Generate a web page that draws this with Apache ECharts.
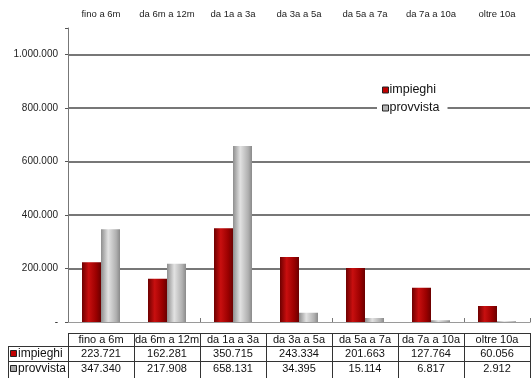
<!DOCTYPE html>
<html>
<head>
<meta charset="utf-8">
<style>
  html, body { margin: 0; padding: 0; background: #fff; }
  #chart { width: 532px; height: 378px; }
</style>
<script src="https://cdn.jsdelivr.net/npm/echarts@6/dist/echarts.min.js"></script>
</head>
<body>
<div id="chart"></div>
<script>
// Maturity buckets and amounts per bucket
const categories = ['fino a 6m', 'da 6m a 12m', 'da 1a a 3a', 'da 3a a 5a', 'da 5a a 7a', 'da 7a a 10a', 'oltre 10a'];
const impieghi  = [223721, 162281, 350715, 243334, 201663, 127764, 60056];
const provvista = [347340, 217908, 658131, 34395, 15114, 6817, 2912];
const seriesNames = ['impieghi', 'provvista'];
const yTicks = [0, 200000, 400000, 600000, 800000, 1000000];

const FONT = '"Liberation Sans", Arial, sans-serif';

function fmt(v) {
  if (v === 0) return '-';
  return String(v).replace(/\B(?=(\d{3})+(?!\d))/g, '.');
}

const redFill = new echarts.graphic.LinearGradient(0, 0, 1, 0, [
  { offset: 0, color: '#6e0000' },
  { offset: 0.35, color: '#c80f0f' },
  { offset: 0.75, color: '#9a0000' },
  { offset: 1, color: '#6a0000' }
]);
const greyFill = new echarts.graphic.LinearGradient(0, 0, 1, 0, [
  { offset: 0, color: '#8e8e8e' },
  { offset: 0.38, color: '#e2e2e2' },
  { offset: 0.8, color: '#b0b0b0' },
  { offset: 1, color: '#8a8a8a' }
]);

const chart = echarts.init(document.getElementById('chart'), null, { renderer: 'canvas' });

const option = {
  animation: false,
  backgroundColor: '#fff',
  grid: { left: 68, right: 2, top: 28, bottom: 56, containLabel: false },
  legend: {
    orient: 'vertical',
    left: 377,
    top: 81.5,
    padding: [2, 8, 2, 5],
    itemGap: 5,
    itemWidth: 6,
    itemHeight: 6,
    backgroundColor: '#fff',
    textStyle: { fontFamily: FONT, fontSize: 12.5, color: '#111', lineHeight: 13, padding: [0, 0, 0, -4] },
    data: [
      { name: seriesNames[0], icon: 'rect', itemStyle: { color: '#c00000', borderColor: '#222', borderWidth: 1 } },
      { name: seriesNames[1], icon: 'rect', itemStyle: { color: '#b4b4b4', borderColor: '#222', borderWidth: 1 } }
    ]
  },
  xAxis: [
    {
      type: 'category',
      position: 'top',
      data: categories,
      axisLine: { show: true, lineStyle: { color: '#a8a8a8', width: 1 } },
      axisTick: { show: false },
      axisLabel: { fontFamily: FONT, fontSize: 9.5, color: '#222', margin: 9, interval: 0 },
      splitLine: { show: false }
    },
    {
      type: 'category',
      position: 'bottom',
      data: categories,
      axisLine: { show: true, lineStyle: { color: '#9a9a9a', width: 1 } },
      axisTick: { show: true, inside: true, length: 4, lineStyle: { color: '#777' } },
      axisLabel: { show: false },
      splitLine: { show: false }
    }
  ],
  yAxis: {
    type: 'value',
    min: 0,
    max: 1100000,
    interval: 200000,
    axisLine: { show: true, lineStyle: { color: '#777', width: 1 } },
    axisTick: { show: true, length: 3, lineStyle: { color: '#555' } },
    axisLabel: {
      fontFamily: FONT, fontSize: 10, color: '#222', margin: 10,
      formatter: v => (yTicks.indexOf(v) >= 0 ? fmt(v) : '')
    },
    splitLine: {
      show: true,
      showMinLine: false,
      showMaxLine: false,
      lineStyle: { color: '#4a4a4a', width: 1.5 }
    }
  },
  series: [
    {
      name: seriesNames[0],
      type: 'bar',
      data: impieghi,
      barWidth: 19,
      barGap: '0%',
      itemStyle: { color: redFill }
    },
    {
      name: seriesNames[1],
      type: 'bar',
      data: provvista,
      barWidth: 19,
      barGap: '0%',
      itemStyle: { color: greyFill }
    }
  ]
};

chart.setOption(option);

// Data table underneath the plot, laid out on the category axis columns
function buildTable() {
  const centers = categories.map(c => chart.convertToPixel({ xAxisIndex: 0 }, c));
  const colW = centers.length > 1 ? centers[1] - centers[0] : 66;
  const x0 = centers[0] - colW / 2;
  const x1 = centers[centers.length - 1] + colW / 2;
  const keyLeft = 8;
  const rowTop = [333, 346, 361];
  const rowH = [13, 15, 15];
  const tableBottom = 380;
  const lineStyle = { stroke: '#333', lineWidth: 1 };
  const els = [];

  // horizontal rules
  els.push({ type: 'line', shape: { x1: x0, y1: rowTop[0] + 0.5, x2: x1, y2: rowTop[0] + 0.5 }, style: lineStyle, silent: true });
  els.push({ type: 'line', shape: { x1: keyLeft, y1: rowTop[1] + 0.5, x2: x1, y2: rowTop[1] + 0.5 }, style: lineStyle, silent: true });
  els.push({ type: 'line', shape: { x1: keyLeft, y1: rowTop[2] + 0.5, x2: x1, y2: rowTop[2] + 0.5 }, style: lineStyle, silent: true });

  // vertical rules
  els.push({ type: 'line', shape: { x1: keyLeft + 0.5, y1: rowTop[1], x2: keyLeft + 0.5, y2: tableBottom }, style: lineStyle, silent: true });
  for (let k = 0; k <= categories.length; k++) {
    const x = Math.round(x0 + k * colW) + 0.5;
    els.push({ type: 'line', shape: { x1: x, y1: rowTop[0], x2: x, y2: tableBottom }, style: lineStyle, silent: true });
  }

  // header row
  categories.forEach((c, i) => {
    els.push({
      type: 'text', silent: true,
      style: { x: centers[i], y: rowTop[0] + rowH[0] / 2 + 0.5, text: c, fill: '#111', font: '11px ' + FONT, align: 'center', verticalAlign: 'middle' }
    });
  });

  // data rows with legend keys
  const rows = [impieghi, provvista];
  const keyColors = ['#c00000', '#a9a9a9'];
  rows.forEach((vals, r) => {
    const cy = rowTop[r + 1] + rowH[r + 1] / 2 + 0.5;
    els.push({
      type: 'rect', silent: true,
      shape: { x: 10.5, y: cy - 3.5, width: 6, height: 6 },
      style: { fill: keyColors[r], stroke: '#222', lineWidth: 1 }
    });
    els.push({
      type: 'text', silent: true,
      style: { x: 18, y: cy, text: seriesNames[r], fill: '#111', font: '12px ' + FONT, align: 'left', verticalAlign: 'middle' }
    });
    vals.forEach((v, i) => {
      els.push({
        type: 'text', silent: true,
        style: { x: centers[i], y: cy, text: fmt(v), fill: '#111', font: '11px ' + FONT, align: 'center', verticalAlign: 'middle' }
      });
    });
  });

  chart.setOption({ graphic: { elements: els } });
}

buildTable();
</script>
</body>
</html>
